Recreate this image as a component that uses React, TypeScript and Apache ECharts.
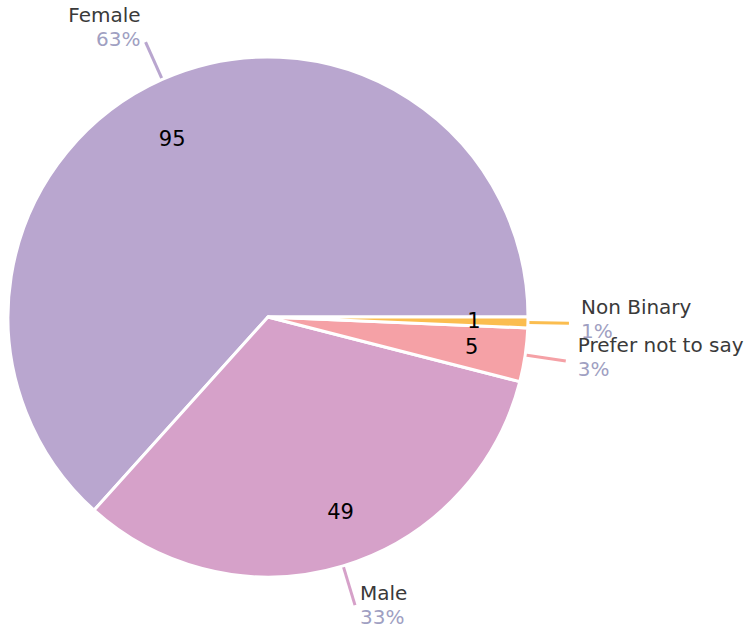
import React, { useEffect, useRef } from "react";
import * as echarts from "echarts";

const categories = ["Female", "Male", "Prefer not to say", "Non Binary"];
const values = [95, 49, 5, 1];
const colors = ["#b9a6cf", "#d6a1c9", "#f5a1a6", "#fbbd4f"];

export default function App() {
  const ref = useRef<HTMLDivElement>(null);
  useEffect(() => {
    if (!ref.current) return;
    const chart = echarts.init(ref.current, undefined, { renderer: "svg" });
    const font = "DejaVu Sans";
    const rich = {
      n: { fontFamily: font, fontSize: 20, color: "#3a3a3a", lineHeight: 24 },
      p: { fontFamily: font, fontSize: 20, color: "#a09fc2", lineHeight: 24 },
      s: { fontFamily: font, fontSize: 10, lineHeight: 30 },
      t: { fontFamily: font, fontSize: 10, lineHeight: 8 },
    };
    const outerLabel = (p: any) => {
      const base = `{n|${p.name}}\n{p|${Math.round(p.percent)}%}`;
      if (p.dataIndex === 0) return base + "\n{s| }";
      if (p.dataIndex >= 2) return base + "\n{t| }";
      return base;
    };
    // main pie: all slices, labels for all but the smallest
    const outerData = categories.map((name, i) => ({
      name,
      value: values[i],
      itemStyle: { color: colors[i] },
      label: i === 2 ? { distanceToLabelLine: 12 } : i === 3 ? { show: false } : {},
      labelLine: i === 3 ? { show: false } : {},
    }));
    // overlay pie carrying only the smallest slice's outside label
    const nbData = categories.map((name, i) => ({
      name,
      value: values[i],
      itemStyle: { color: "rgba(0,0,0,0)" },
      label: i === 3 ? { show: true, distanceToLabelLine: 12 } : { show: false },
      labelLine: i === 3 ? { show: true, lineStyle: { color: colors[i] } } : { show: false },
    }));
    const innerData = categories.map((name, i) => ({ name, value: values[i] }));
    const nudges: Record<number, [number, number]> = { 0: [-12, 10], 1: [13, -2] };
    const common = {
      type: "pie",
      center: [268, 317],
      startAngle: 0,
      clockwise: false,
      avoidLabelOverlap: false,
      emphasis: { disabled: true },
    };
    chart.setOption({
      animation: false,
      series: [
        {
          ...common,
          radius: [0, 260],
          itemStyle: { borderColor: "#ffffff", borderWidth: 3 },
          label: { show: true, position: "outside", fontFamily: font, formatter: outerLabel, rich },
          labelLine: { show: true, length: 41, length2: 0, lineStyle: { width: 3 } },
          labelLayout: { hideOverlap: false },
          data: outerData,
        },
        {
          ...common,
          radius: [0, 260],
          silent: true,
          itemStyle: { borderWidth: 0 },
          label: { show: true, position: "outside", fontFamily: font, formatter: outerLabel, rich },
          labelLine: { show: true, length: 41, length2: 0, lineStyle: { width: 3 } },
          labelLayout: { hideOverlap: false },
          data: nbData,
        },
        {
          ...common,
          radius: [146, 260],
          silent: true,
          itemStyle: { color: "rgba(0,0,0,0)", borderWidth: 0 },
          label: {
            show: true,
            position: "inside",
            fontFamily: font,
            fontSize: 21,
            color: "#000000",
            formatter: "{c}",
          },
          labelLayout: (params: any) => {
            const n = nudges[params.dataIndex];
            return n ? { dx: n[0], dy: n[1] } : {};
          },
          labelLine: { show: false },
          data: innerData,
        },
      ],
    });
    return () => chart.dispose();
  }, []);
  return (
    <div
      ref={ref}
      style={{ position: "absolute", left: 0, top: 0, width: 751, height: 633 }}
    />
  );
}
